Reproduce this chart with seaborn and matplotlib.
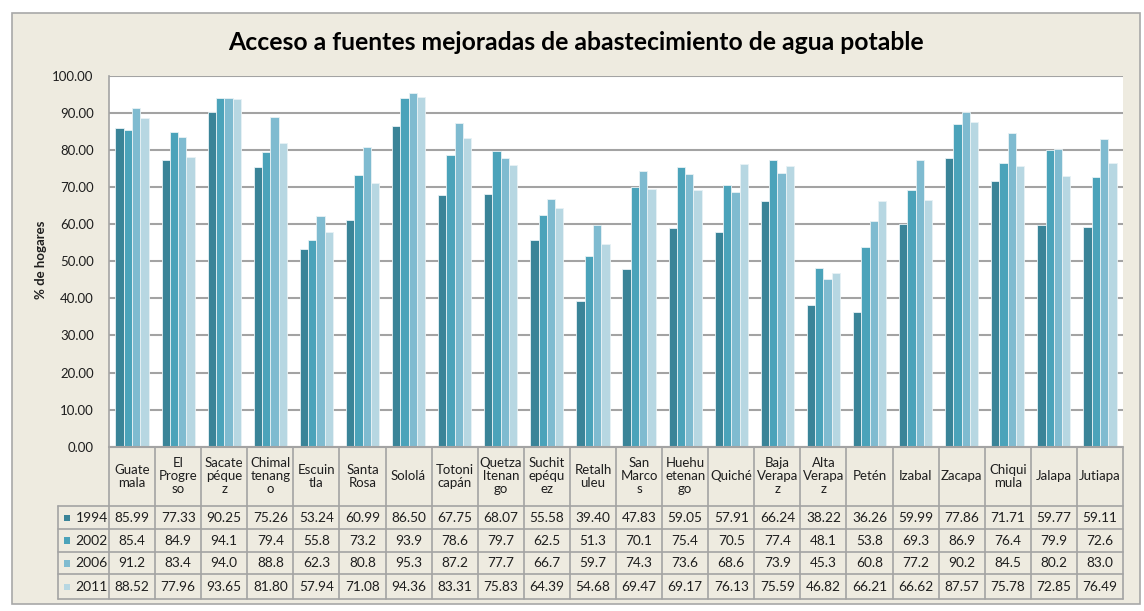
import pandas as pd
import matplotlib.pyplot as plt
import seaborn as sns
from matplotlib.patches import Rectangle

# datos por departamento
departamentos = ["Guatemala", "El Progreso", "Sacatepéquez", "Chimaltenango", "Escuintla",
                 "Santa Rosa", "Sololá", "Totonicapán", "Quetzaltenango", "Suchitepéquez",
                 "Retalhuleu", "San Marcos", "Huehuetenango", "Quiché", "Baja Verapaz",
                 "Alta Verapaz", "Petén", "Izabal", "Zacapa", "Chiquimula", "Jalapa", "Jutiapa"]
etiquetas = ["Guate\nmala", "El\nProgre\nso", "Sacate\npéque\nz", "Chimal\ntenang\no",
             "Escuin\ntla", "Santa\nRosa", "Sololá", "Totoni\ncapán", "Quetza\nltenan\ngo",
             "Suchit\nepéqu\nez", "Retalh\nuleu", "San\nMarco\ns", "Huehu\netenan\ngo",
             "Quiché", "Baja\nVerapa\nz", "Alta\nVerapa\nz", "Petén", "Izabal", "Zacapa",
             "Chiqui\nmula", "Jalapa", "Jutiapa"]
anios = ["1994", "2002", "2006", "2011"]
v1994 = [85.99, 77.33, 90.25, 75.26, 53.24, 60.99, 86.50, 67.75, 68.07, 55.58, 39.40,
         47.83, 59.05, 57.91, 66.24, 38.22, 36.26, 59.99, 77.86, 71.71, 59.77, 59.11]
v2002 = [85.4, 84.9, 94.1, 79.4, 55.8, 73.2, 93.9, 78.6, 79.7, 62.5, 51.3,
         70.1, 75.4, 70.5, 77.4, 48.1, 53.8, 69.3, 86.9, 76.4, 79.9, 72.6]
v2006 = [91.2, 83.4, 94.0, 88.8, 62.3, 80.8, 95.3, 87.2, 77.7, 66.7, 59.7,
         74.3, 73.6, 68.6, 73.9, 45.3, 60.8, 77.2, 90.2, 84.5, 80.2, 83.0]
v2011 = [88.52, 77.96, 93.65, 81.80, 57.94, 71.08, 94.36, 83.31, 75.83, 64.39, 54.68,
         69.47, 69.17, 76.13, 75.59, 46.82, 66.21, 66.62, 87.57, 75.78, 72.85, 76.49]
valores = {"1994": v1994, "2002": v2002, "2006": v2006, "2011": v2011}
decimales = {"1994": 2, "2002": 1, "2006": 1, "2011": 2}
colores = ["#3a8498", "#4ba3ba", "#7fbbd0", "#b7d7e2"]

filas = []
for a in anios:
    for d, v in zip(departamentos, valores[a]):
        filas.append({"Departamento": d, "Año": a, "Valor": v})
df = pd.DataFrame(filas)

sns.set_theme(style="white")
plt.rcParams["font.family"] = ["Lato", "DejaVu Sans"]
texto = "#1e1e1e"
gris = "#a3a3a3"

W, H = 1144, 611
fig = plt.figure(figsize=(W / 100, H / 100), dpi=100)
fig.patch.set_facecolor("white")
fig.patches.append(Rectangle((12 / W, 1 - 604 / H), (1140 - 12) / W, (604 - 13) / H,
                             transform=fig.transFigure, facecolor="#eeebe0",
                             edgecolor="#a8a8a8", lw=1.2, zorder=-10))

# area del grafico
x0, x1 = 109, 1123
y_top, y_bot = 75.7, 446.7
ax = fig.add_axes([x0 / W, 1 - y_bot / H, (x1 - x0) / W, (y_bot - y_top) / H])
ax.set_facecolor("white")
sns.barplot(data=df, x="Departamento", y="Valor", hue="Año", palette=colores,
            saturation=1, width=0.72, edgecolor="#e8f2f5", linewidth=0.6,
            legend=False, ax=ax)
ax.set_xlim(-0.5, 21.5)
ax.set_ylim(0, 100)
ax.set_yticks(range(0, 101, 10))
ax.set_yticklabels([f"{t:.2f}" for t in range(0, 101, 10)], fontsize=9.5, color=texto)
ax.tick_params(axis="y", length=0, pad=11)
ax.set_xticks([])
ax.set_xlabel("")
ax.set_ylabel("")
ax.yaxis.grid(True, color=gris, lw=1.5)
ax.set_axisbelow(True)
for s in ["top", "right", "bottom"]:
    ax.spines[s].set_visible(False)
ax.spines["left"].set_color(gris)
ax.spines["left"].set_linewidth(1.2)

fig.text(576 / W, 1 - 42 / H, "Acceso a fuentes mejoradas de abastecimiento de agua potable",
         ha="center", va="center", fontsize=17.8, fontweight="bold", color="black")
fig.text(41 / W, 1 - 260 / H, "% de hogares", rotation=90, ha="center", va="center",
         fontsize=9.5, fontweight="bold", color=texto)

# tabla de datos
tx0, ty1 = 57.7, 599
tab = fig.add_axes([tx0 / W, 1 - ty1 / H, (x1 - tx0) / W, (ty1 - y_bot) / H])
ancho = (x1 - x0) / 22
izq = -0.5 - (x0 - tx0) / ancho
tab.set_xlim(izq, 21.5)
tab.set_ylim(ty1 - y_bot, 0)
tab.axis("off")

bordes = [0, 59.3, 82, 105, 127.3, 152.3]
tab.plot([-0.5, 21.5], [0, 0], color=gris, lw=1.5, clip_on=False)
for yb in bordes[1:]:
    tab.plot([izq, 21.5], [yb, yb], color=gris, lw=1.2, clip_on=False)
for i in range(23):
    tab.plot([i - 0.5, i - 0.5], [0, bordes[-1]], color=gris, lw=1.2, clip_on=False)
tab.plot([izq, izq], [bordes[1], bordes[-1]], color=gris, lw=1.2, clip_on=False)

for i, et in enumerate(etiquetas):
    tab.text(i, bordes[1] / 2, et, ha="center", va="center", fontsize=9.5,
             color=texto, linespacing=1.1)

for k, a in enumerate(anios):
    yc = (bordes[k + 1] + bordes[k + 2]) / 2 + 0.5
    for i, v in enumerate(valores[a]):
        tab.text(i, yc, f"{v:.{decimales[a]}f}", ha="center", va="center",
                 fontsize=9.8, color=texto)
    xs = izq + (64 - tx0) / ancho
    tab.add_patch(Rectangle((xs, yc - 3.3), 6.5 / ancho, 6.5, facecolor=colores[k],
                            edgecolor="none", clip_on=False))
    tab.text(izq + (75.5 - tx0) / ancho, yc, a, ha="left", va="center",
             fontsize=10, color=texto)

fig.savefig("out.png", dpi=100)
